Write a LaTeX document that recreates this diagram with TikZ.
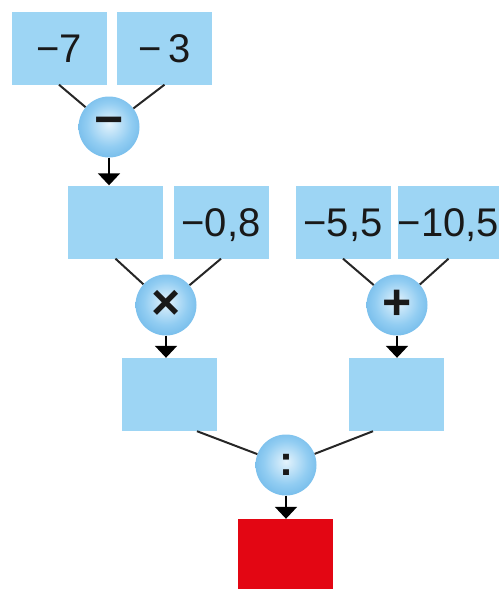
\documentclass[tikz,border=0pt]{standalone}
\usepackage{fontspec}
\setmainfont{Liberation Sans}
\usetikzlibrary{arrows.meta}
\definecolor{boxblue}{HTML}{9DD5F4}
\definecolor{ballin}{HTML}{E4F3FC}
\definecolor{ballmid}{HTML}{92CDF2}
\definecolor{ballout}{HTML}{4AA3E0}
\definecolor{redbox}{HTML}{E30613}
\pgfdeclareradialshading{ballblue}{\pgfpoint{0bp}{3bp}}{color(0bp)=(ballin); color(18bp)=(ballmid); color(42bp)=(ballout); color(50bp)=(ballout)}
\begin{document}
\begin{tikzpicture}[x=1pt,y=-1pt,
  numbox/.style={rectangle, fill=boxblue, minimum width=95pt, minimum height=73pt, inner sep=0pt,
    text height=28.6pt, text depth=0pt, font=\fontsize{40}{44}\selectfont, text=black!90},
  opball/.style={circle, shading=ballblue, minimum size=61pt, inner sep=0pt,
    font=\bfseries\fontsize{50}{54}\selectfont, text=black!90},
  link/.style={line width=2pt, draw=black!85},
  flow/.style={line width=2pt, draw=black, -{Triangle[width=22pt,length=12pt]}}]
\useasboundingbox (0,0) rectangle (502,589);
% row 1
\node[numbox] (a1) at (59,48) {−7};
\node[numbox] (a2) at (164.5,48) {−\hspace{6pt}3};
\node[opball] (c1) at (109,127) {−};
% row 2
\node[numbox] (b1) at (115.5,222) {};
\node[numbox] (b2) at (221,222) {−0,8};
\node[numbox] (b3) at (343,222) {−5,5};
\node[numbox] (b4) at (448.5,222) {−10,5};
\node[opball] (c2) at (166,305) {×};
\node[opball] (c3) at (397,305) {+};
% row 3
\node[numbox] (d1) at (169.5,394.5) {};
\node[numbox] (d2) at (396.5,394.5) {};
\node[opball, font=\bfseries\fontsize{42}{46}\selectfont] (c4) at (286,465) {:};
% result
\node[rectangle, fill=redbox, minimum width=95pt, minimum height=73pt, inner sep=0pt] (e) at (285.5,555.5) {};
% links
\draw[link] (a1.south) -- (c1);
\draw[link] (a2.south) -- (c1);
\draw[link] (b1.south) -- (c2);
\draw[link] (b2.south) -- (c2);
\draw[link] (b3.south) -- (c3);
\draw[link] (b4.south) -- (c3);
\draw[link] ([xshift=27.5pt]d1.south) -- (c4);
\draw[link] ([xshift=-23.5pt]d2.south) -- (c4);
% arrows
\draw[flow] (c1.south) -- (c1.south |- b1.north);
\draw[flow] (c2.south) -- (c2.south |- d1.north);
\draw[flow] (c3.south) -- (c3.south |- d2.north);
\draw[flow] (c4.south) -- (c4.south |- e.north);
\end{tikzpicture}
\end{document}
